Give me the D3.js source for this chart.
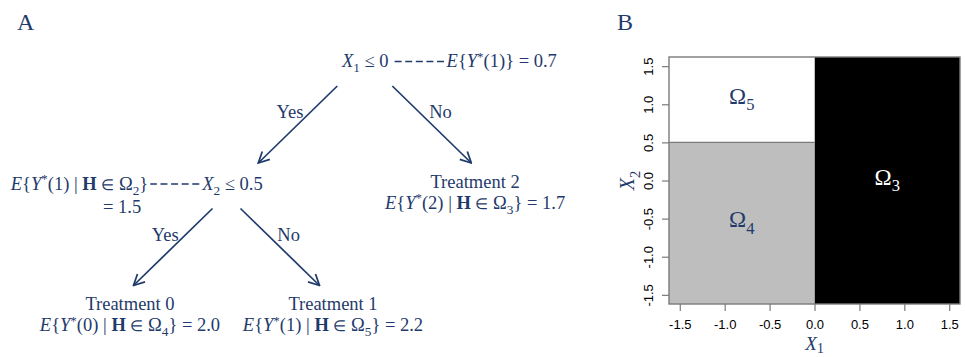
<!DOCTYPE html>
<html><head><meta charset="utf-8">
<script src="https://cdn.jsdelivr.net/npm/d3@7/dist/d3.min.js"></script>
<style>
html,body{margin:0;padding:0;background:#fff;}
svg{display:block;}
</style></head>
<body>
<svg id="chart" width="965" height="357"></svg>
<script>
// ---------- DATA ----------
// Panel A: decision tree
const nodeIds      = ["n1", "n2", "t2", "t0", "t1"];
const nodeParents  = ["",   "n1", "n1", "n2", "n2"];
const branchLabels = ["",   "Yes","No", "Yes","No"];
const splitVars    = [1, 2, null, null, null];      // X_1, X_2
const splitVals    = ["0", "0.5", null, null, null];
const nodeTreat    = [1, 1, 2, 0, 1];               // E{Y*(a)}
const nodeRegions  = [null, 2, 3, 4, 5];            // H in Omega_k
const nodeValues   = ["0.7", "1.5", "1.7", "2.0", "2.2"];

// Panel B: partition of (X1, X2)
const axisExtent = [-1.62, 1.62];
const xTicks = [-1.5, -1.0, -0.5, 0.0, 0.5, 1.0, 1.5];
const yTicks = [-1.5, -1.0, -0.5, 0.0, 0.5, 1.0, 1.5];
const regionOmega = [3, 4, 5];
const regionX0 = [0, -Infinity, -Infinity];
const regionX1 = [Infinity, 0, 0];
const regionY0 = [-Infinity, -Infinity, 0.5];
const regionY1 = [Infinity, 0.5, Infinity];
const panelLabels = ["A", "B"];

// ---------- STYLE ----------
const NAVY = "#1f3a6b";
const SERIF = "'Liberation Serif','Times New Roman',serif";
const SANS = "'Liberation Sans',Arial,sans-serif";

const svg = d3.select("#chart");

// rich text helper: segs = [[text, kind]] kind in '', 'i', 'b', 'sub', 'sup', 'sm'
function rich(g, x, y, segs, anchor, size, color, subOff) {
  const t = g.append("text").attr("x", x).attr("y", y)
    .attr("text-anchor", anchor || "start")
    .attr("font-family", SERIF).attr("font-size", size).attr("fill", color || NAVY);
  let off = 0;
  segs.forEach(([s, k]) => {
    const ts = t.append("tspan").text(s);
    let target = 0;
    if (k === "sub") { target = size * (subOff || 0.28); ts.attr("font-size", size * 0.72); }
    if (k === "sup") { target = -size * 0.35; ts.attr("font-size", size * 0.7); }
    if (k === "sm") { ts.attr("font-size", size * 0.8); }
    if (k === "i") ts.attr("font-style", "italic");
    if (k === "b") ts.attr("font-weight", "bold");
    ts.attr("dy", target - off);
    off = target;
  });
  return t;
}

const condSegs = i => [["X", "i"], [String(splitVars[i]), "sub"], [" \u2264 " + splitVals[i], ""]];
const expSegs = (i, withValue) => {
  const s = [["E", "i"], ["{", ""], ["Y", "i"], ["*", "sup"], ["(" + nodeTreat[i] + ")", ""]];
  if (nodeRegions[i] != null) {
    s.push([" | ", ""], ["H", "b"], [" ", ""], ["\u2208", "sm"], [" \u03A9", ""], [String(nodeRegions[i]), "sub"]);
  }
  s.push(["}", ""]);
  if (withValue) s.push([" = " + nodeValues[i], ""]);
  return s;
};

// ---------- PANEL A: TREE ----------
const root = d3.stratify().id((d, i) => nodeIds[i]).parentId((d, i) => nodeParents[i] || null)(nodeIds.map((d, i) => i));
d3.tree().nodeSize([1, 1]).separation((a, b) => a.depth === 1 ? 1.2 : 1)(root);

const leaves = root.leaves().filter(d => d.depth === 2);
const tx = d3.scaleLinear().domain([leaves[0].x, leaves[1].x]).range([130, 333]);
const ty = d3.scaleLinear().domain([0, 2]).range([65, 310]);

const gA = svg.append("g");
const fs = 18.5;

const condShift = [12, 1];
const armOffsets = [[-28, 27], [-20, 8]];
const armDX = 79, armDY = 77;

// arrows
const defs = svg.append("defs");
defs.append("marker").attr("id", "arr").attr("viewBox", "0 0 12 12")
  .attr("refX", 11).attr("refY", 6).attr("markerWidth", 13).attr("markerHeight", 13)
  .attr("markerUnits", "userSpaceOnUse").attr("orient", "auto")
  .append("path").attr("d", "M1,1 L11,6 L1,11").attr("fill", "none")
  .attr("stroke", NAVY).attr("stroke-width", 1.6);

root.descendants().forEach(n => {
  const i = n.data;
  const cx = tx(n.x), cy = ty(n.depth);
  if (n.children) {
    const ccx = cx + condShift[n.depth];
    const cond = rich(gA, ccx, cy + 2, condSegs(i), "middle", fs);
    const bb = cond.node().getBBox();
    const dashY = cy + 2 - 5.5;
    if (n.depth === 0) {
      gA.append("line").attr("x1", bb.x + bb.width + 6).attr("x2", bb.x + bb.width + 57)
        .attr("y1", dashY).attr("y2", dashY).attr("stroke", NAVY).attr("stroke-width", 1.3)
        .attr("stroke-dasharray", "7,3.6");
      rich(gA, bb.x + bb.width + 58, cy + 2, expSegs(i, true), "start", fs);
    } else {
      gA.append("line").attr("x1", bb.x - 2).attr("x2", bb.x - 51)
        .attr("y1", dashY).attr("y2", dashY).attr("stroke", NAVY).attr("stroke-width", 1.3)
        .attr("stroke-dasharray", "7,3.6");
      rich(gA, bb.x - 53, cy + 2, expSegs(i, false), "end", fs);
      rich(gA, bb.x - 60, cy + 25, [["= " + nodeValues[i], ""]], "end", fs);
    }
    // arms
    n.children.forEach((c, k) => {
      const dir = k === 0 ? -1 : 1;
      const x1 = ccx + armOffsets[n.depth][k], y1 = cy + 21;
      const x2 = x1 + dir * armDX, y2 = y1 + armDY;
      gA.append("line").attr("x1", x1).attr("y1", y1).attr("x2", x2).attr("y2", y2)
        .attr("stroke", NAVY).attr("stroke-width", 1.7).attr("marker-end", "url(#arr)");
      const ly = y1 + 32;
      const ax = x1 + dir * armDX * (32 / armDY);
      gA.append("text").attr("x", dir < 0 ? ax - 1 : ax + 4).attr("y", ly)
        .attr("text-anchor", dir < 0 ? "end" : "start")
        .attr("font-family", SERIF).attr("font-size", fs).attr("fill", NAVY)
        .text(branchLabels[c.data]);
    });
  } else {
    rich(gA, cx, cy, [["Treatment " + nodeTreat[i], ""]], "middle", fs);
    rich(gA, cx, cy + 21, expSegs(i, true), "middle", fs);
  }
});

// panel letter A
svg.append("text").attr("x", 17).attr("y", 30).attr("font-family", SERIF)
  .attr("font-size", 24).attr("fill", NAVY).text(panelLabels[0]);

// ---------- PANEL B: PARTITION ----------
const x = d3.scaleLinear().domain(axisExtent).range([669, 960]);
const y = d3.scaleLinear().domain(axisExtent).range([304, 57]);
const fill = d3.scaleOrdinal().domain(regionOmega).range(["#000000", "#bebebe", "#ffffff"]);
const labCol = d3.scaleOrdinal().domain(regionOmega).range(["#ffffff", NAVY, NAVY]);
const clampX = v => Math.max(axisExtent[0], Math.min(axisExtent[1], v));

const gB = svg.append("g");
regionOmega.forEach((o, i) => {
  const a = clampX(regionX0[i]), b = clampX(regionX1[i]);
  const c = clampX(regionY0[i]), d = clampX(regionY1[i]);
  gB.append("rect").attr("x", x(a)).attr("y", y(d))
    .attr("width", x(b) - x(a)).attr("height", y(c) - y(d)).attr("fill", fill(o));
});
// split line (gray edge)
gB.append("line").attr("x1", x(axisExtent[0])).attr("x2", x(0)).attr("y1", y(0.5)).attr("y2", y(0.5))
  .attr("stroke", "#7a7a7a").attr("stroke-width", 1.2);
regionOmega.forEach((o, i) => {
  const a = clampX(regionX0[i]), b = clampX(regionX1[i]);
  const c = clampX(regionY0[i]), d = clampX(regionY1[i]);
  rich(gB, x((a + b) / 2), y((c + d) / 2) + 4, [["\u03A9", ""], [String(o), "sub"]], "middle", 23, labCol(o));
});
// box
gB.append("rect").attr("x", x(axisExtent[0])).attr("y", y(axisExtent[1]))
  .attr("width", x(axisExtent[1]) - x(axisExtent[0])).attr("height", y(axisExtent[0]) - y(axisExtent[1]))
  .attr("fill", "none").attr("stroke", "#7a7a7a").attr("stroke-width", 1.4);

const fmt = v => v.toFixed(1);
const xa = gB.append("g").attr("transform", `translate(0,${y(axisExtent[0])})`)
  .call(d3.axisBottom(x).tickValues(xTicks).tickFormat(fmt).tickSize(7).tickPadding(9));
const ya = gB.append("g").attr("transform", `translate(${x(axisExtent[0])},0)`)
  .call(d3.axisLeft(y).tickValues(yTicks).tickFormat(fmt).tickSize(7));
[xa, ya].forEach(a => {
  a.select(".domain").remove();
  a.selectAll(".tick line").attr("stroke", "#7a7a7a").attr("stroke-width", 1.2);
  a.selectAll("text").attr("font-family", SANS).attr("font-size", 13).attr("fill", "#000");
});
ya.selectAll(".tick text").attr("transform", "rotate(-90)").attr("text-anchor", "middle")
  .attr("x", 0).attr("y", -16).attr("dy", 0);

// axis titles
rich(svg, (x(axisExtent[0]) + x(axisExtent[1])) / 2, 350, [["X", "i"], ["1", "sub"]], "middle", 19, NAVY, 0.18);
const yt = svg.append("g").attr("transform", `translate(634,${(y(axisExtent[0]) + y(axisExtent[1])) / 2}) rotate(-90)`);
rich(yt, 0, 0, [["X", "i"], ["2", "sub"]], "middle", 20);

svg.append("text").attr("x", 617).attr("y", 30).attr("font-family", SERIF)
  .attr("font-size", 24).attr("fill", NAVY).text(panelLabels[1]);
</script>
</body></html>
